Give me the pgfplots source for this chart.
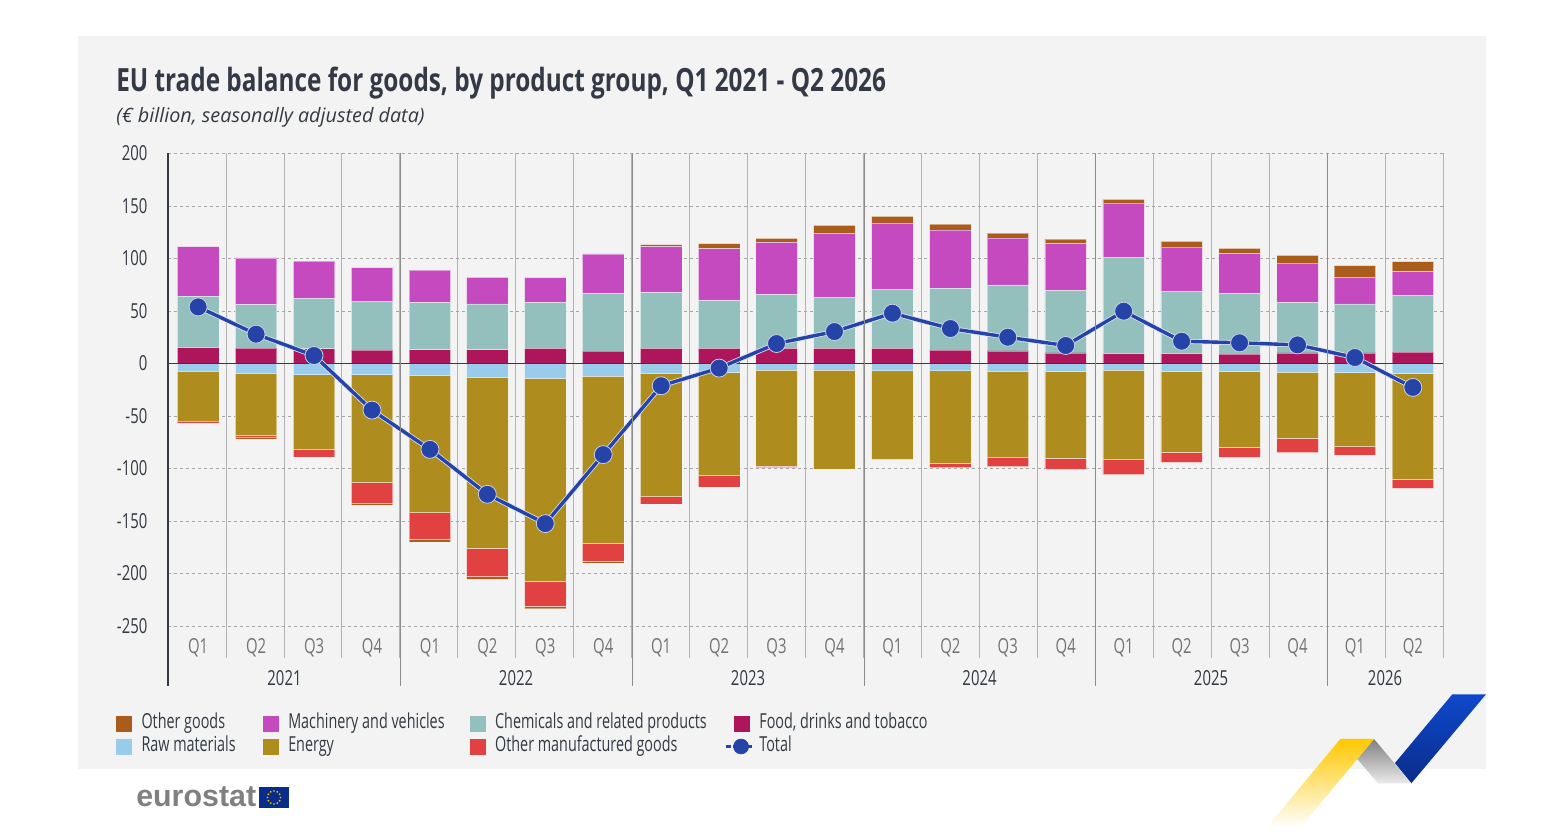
\documentclass[border=0pt]{standalone}
\usepackage{fontspec}
\usepackage{pgfplots}
\usepackage{pgfplotstable}
\pgfplotsset{compat=1.18}
\setmainfont[FakeStretch=0.72]{Open Sans}
\newfontfamily\titlefont[FakeStretch=0.76]{Open Sans}
\newfontfamily\legendfont[FakeStretch=0.695]{Open Sans}
\newfontfamily\subfont{Open Sans}
\newfontfamily\logofont{Liberation Sans}

\newlength\px
\setlength\px{0.75pt}

\definecolor{bg}{HTML}{F3F3F3}
\definecolor{goodsc}{HTML}{AA5C1A}
\definecolor{machc}{HTML}{C549BF}
\definecolor{chemc}{HTML}{93BFBC}
\definecolor{foodc}{HTML}{AD165B}
\definecolor{rawc}{HTML}{99CCEB}
\definecolor{energyc}{HTML}{AE8C1E}
\definecolor{mfgc}{HTML}{E24142}
\definecolor{totalc}{HTML}{2644A8}
\definecolor{txt}{HTML}{333A45}
\definecolor{swblue}{HTML}{0F49CC}
\definecolor{swdark}{HTML}{0A2C8A}
\definecolor{swyellow}{HTML}{FFC800}

% surplus groups, stacked upwards
\pgfplotstableread{
x     food chem mach goods
0.52  15.0 48.8 47.6 0
1.52  14.6 41.5 44.4 0
2.52  14.0 47.8 35.8 0
3.52  12.7 46.6 32.0 0
4.52  13.0 45.0 31.0 0
5.51  13.0 43.7 25.3 0
6.51  14.3 43.7 23.8 0
7.51  11.7 54.9 37.7 0
8.51  14.3 53.2 43.8 1.9
9.51  14.3 45.6 49.5 4.7
10.50 14.3 51.3 49.8 3.8
11.50 14.3 48.7 61.0 7.5
12.50 14.3 56.4 63.1 6.2
13.50 12.7 58.9 55.5 5.7
14.49 12.0 62.8 44.7 4.7
15.49 10.1 59.3 44.7 4.4
16.49 9.5  91.3 52.0 3.5
17.49 9.5  59.3 42.1 5.4
18.49 8.9  57.7 38.0 5.1
19.49 10.1 47.9 37.7 7.3
20.48 10.1 46.6 25.4 11.1
21.48 10.8 53.9 22.8 9.5
}\postable

% deficit groups, stacked downwards
\pgfplotstableread{
x     raw   energy mfg   goods
0.52  -7.3  -48.2  -1.2  0
1.52  -9.2  -59.3  -2.2  -1.3
2.52  -10.8 -71.0  -7.2  0
3.52  -10.8 -102.7 -19.5 -2.0
4.52  -11.7 -130.3 -25.4 -2.6
5.51  -13.6 -162.6 -26.7 -2.8
6.51  -14.3 -193.3 -23.4 -2.6
7.51  -12.0 -159.2 -17.1 -1.9
8.51  -9.8  -117.0 -6.9  0
9.51  -8.6  -98.2  -10.8 0
10.50 -6.3  -91.3  -1.6  0
11.50 -6.3  -94.2  0     0
12.50 -7.0  -84.3  0     0
13.50 -7.0  -88.4  -3.8  0
14.49 -7.9  -81.8  -8.6  0
15.49 -7.6  -82.7  -10.5 0
16.49 -6.3  -85.0  -14.6 0
17.49 -7.6  -77.0  -9.5  0
18.49 -7.6  -72.3  -9.5  0
19.49 -8.2  -63.1  -13.6 0
20.48 -8.6  -70.6  -8.0  0
21.48 -9.5  -100.8 -8.6  0
}\negtable

\pgfplotstableread{
x     total
0.52  53.9
1.52  27.9
2.52  7.6
3.52  -44.4
4.52  -81.8
5.51  -124.6
6.51  -152.5
7.51  -86.8
8.51  -21.2
9.51  -4.4
10.50 19.0
11.50 30.4
12.50 47.9
13.50 33.3
14.49 25.0
15.49 17.1
16.49 49.8
17.49 21.2
18.49 19.7
19.49 17.7
20.48 5.7
21.48 -22.8
}\totaltable

\pgfplotsset{
  base/.style={
    scale only axis, width=1275\px, height=504.5\px,
    at={(168\px,177\px)}, anchor=south west,
    xmin=0, xmax=22, ymin=-280.5, ymax=200,
    clip=false,
  },
  seg/.style={fill=#1, draw=white, draw opacity=0.45, line width=0.7\px},
  swatch/.style={legend image code/.code={
    \fill[#1] (0,-7.5\px) rectangle (15\px,7.5\px);}},
}

\begin{document}
\begin{tikzpicture}[every node/.append style={font=\fontsize{15.5}{18}\selectfont}]
% page and panel
\path[fill=white] (0,0) rectangle (1543\px,835\px);
\fill[bg] (78\px,66\px) rectangle (1486\px,799\px);

% grid, ticks and surplus stack
\begin{axis}[base, ybar stacked, bar width=41.5\px,
    axis line style={draw=none},
    xtick={0.52,1.52,2.52,3.52,4.52,5.51,6.51,7.51,8.51,9.51,10.5,11.5,12.5,13.5,14.49,15.49,16.49,17.49,18.49,19.49,20.48,21.48},
    xticklabels={Q1,Q2,Q3,Q4,Q1,Q2,Q3,Q4,Q1,Q2,Q3,Q4,Q1,Q2,Q3,Q4,Q1,Q2,Q3,Q4,Q1,Q2},
    major tick length=0pt, minor tick length=0pt,
    x tick label style={text=black!55, anchor=center, yshift=10\px},
    minor xtick={0,1,...,22},
    xminorgrids, minor x grid style={black!30, line width=0.8\px},
    ytick={-250,-200,...,200},
    ymajorgrids, y grid style={black!35, dash pattern=on 3\px off 3\px, line width=0.9\px},
    yticklabel style={text=txt, xshift=-16\px, /pgf/number format/assume math mode=true},
    tick label style={font=\fontsize{15.5}{18}\selectfont},
  ]
  \addplot[seg=foodc] table[x=x,y=food] {\postable};
  \addplot[seg=chemc] table[x=x,y=chem] {\postable};
  \addplot[seg=machc] table[x=x,y=mach] {\postable};
  \addplot[seg=goodsc] table[x=x,y=goods] {\postable};
\end{axis}

% deficit stack
\begin{axis}[base, hide axis, ybar stacked, bar width=41.5\px]
  \addplot[seg=rawc] table[x=x,y=raw] {\negtable};
  \addplot[seg=energyc] table[x=x,y=energy] {\negtable};
  \addplot[seg=mfgc] table[x=x,y=mfg] {\negtable};
  \addplot[seg=goodsc] table[x=x,y=goods] {\negtable};
\end{axis}

% zero line, total and legend
\begin{axis}[base, hide axis,
    legend columns=4,
    legend cell align=left,
    legend style={at={(-0.0408,-0.113)}, anchor=north west, draw=none, fill=none,
      inner sep=0pt, outer sep=0pt, row sep=6\px, text=txt,
      nodes={inner sep=0pt, text height=13\px, text depth=4\px},
      /tikz/column 1/.style={column sep=10\px},
      /tikz/column 2/.style={column sep=27\px},
      /tikz/column 3/.style={column sep=10\px},
      /tikz/column 4/.style={column sep=25\px},
      /tikz/column 5/.style={column sep=10\px},
      /tikz/column 6/.style={column sep=27\px},
      /tikz/column 7/.style={column sep=10\px}},
  ]
  \addplot[forget plot, color=txt, line width=1.2\px] coordinates {(0,0) (22,0)};
  \addplot[forget plot, color=white!85!totalc, line width=5\px] table[x=x,y=total] {\totaltable};
  \addplot[forget plot, color=totalc, line width=3.4\px,
    mark=*, mark size=9\px, mark options={fill=totalc, draw=white!75!totalc, line width=0.8\px}]
    table[x=x,y=total] {\totaltable};

  \addlegendimage{swatch=goodsc}\addlegendentry{\legendfont Other goods}
  \addlegendimage{swatch=machc}\addlegendentry{\legendfont Machinery and vehicles}
  \addlegendimage{swatch=chemc}\addlegendentry{\legendfont Chemicals and related products}
  \addlegendimage{swatch=foodc}\addlegendentry{\legendfont Food, drinks and tobacco}
  \addlegendimage{swatch=rawc}\addlegendentry{\legendfont Raw materials}
  \addlegendimage{swatch=energyc}\addlegendentry{\legendfont Energy}
  \addlegendimage{swatch=mfgc}\addlegendentry{\legendfont Other manufactured goods}
  \addlegendimage{legend image code/.code={
      \path[draw=none, fill=none] (0,-7.5\px) rectangle (15\px,7.5\px);
      \draw[overlay, totalc, line width=3\px, dash pattern=on 5\px off 2\px] (-8\px,0) -- (18\px,0);
      \fill[overlay, totalc] (7\px,0) circle (7.5\px);}}
  \addlegendentry{\legendfont Total}
\end{axis}

% texts, frame lines and logo in page pixels
\begin{scope}[x=\px, y=-\px, shift={(0,-835)}]
  \node[anchor=base west, inner sep=0, text=txt, font=\titlefont\fontsize{24}{28}\selectfont\bfseries] at (116,92)
    {EU trade balance for goods, by product group, Q1 2021 - Q2 2026};
  \node[anchor=base west, inner sep=0, text=txt, font=\subfont\fontsize{14.85}{18}\selectfont\itshape] at (116,123)
    {(€ billion, seasonally adjusted data)};

  \draw[color=black!30, line width=1\px] (1443,153.5) -- (1443,658);
  \foreach \x in {400,632,864,1095.5,1327.5} \draw[black!45, line width=1\px] (\x,153.5) -- (\x,686);
  \draw[color=txt, line width=1.1\px] (168,153.5) -- (168,686);
  \foreach \x/\y in {284.5/2021,516/2022,748/2023,979.5/2024,1211/2025,1385/2026}
    \node[text=txt, inner sep=0] at (\x,678) {\y};

  \shade[top color=swblue, middle color=swblue, bottom color=swdark] (1452.3,694.3) -- (1486,694.3) -- (1411.3,783.3) -- (1395,763) -- cycle;
  \shade[top color=black!50, bottom color=black!8] (1374,739) -- (1411.3,783.3) -- (1378,783.3) -- (1357.3,759) -- cycle;
  \shade[top color=swyellow, middle color=swyellow, bottom color=white] (1340.3,739) -- (1374,739) -- (1300,827.7) -- (1266.7,827.7) -- cycle;

  \node[anchor=base west, inner sep=0, text=black!50, font=\logofont\fontsize{22.8}{26}\selectfont\bfseries] at (136,807) {eurostat};
  \fill[swdark] (259,787) rectangle (289,808);
  \foreach \a in {0,30,...,330} \fill[swyellow] (274,797.5) ++(\a:6.5) circle (0.9);
\end{scope}
\end{tikzpicture}
\end{document}
